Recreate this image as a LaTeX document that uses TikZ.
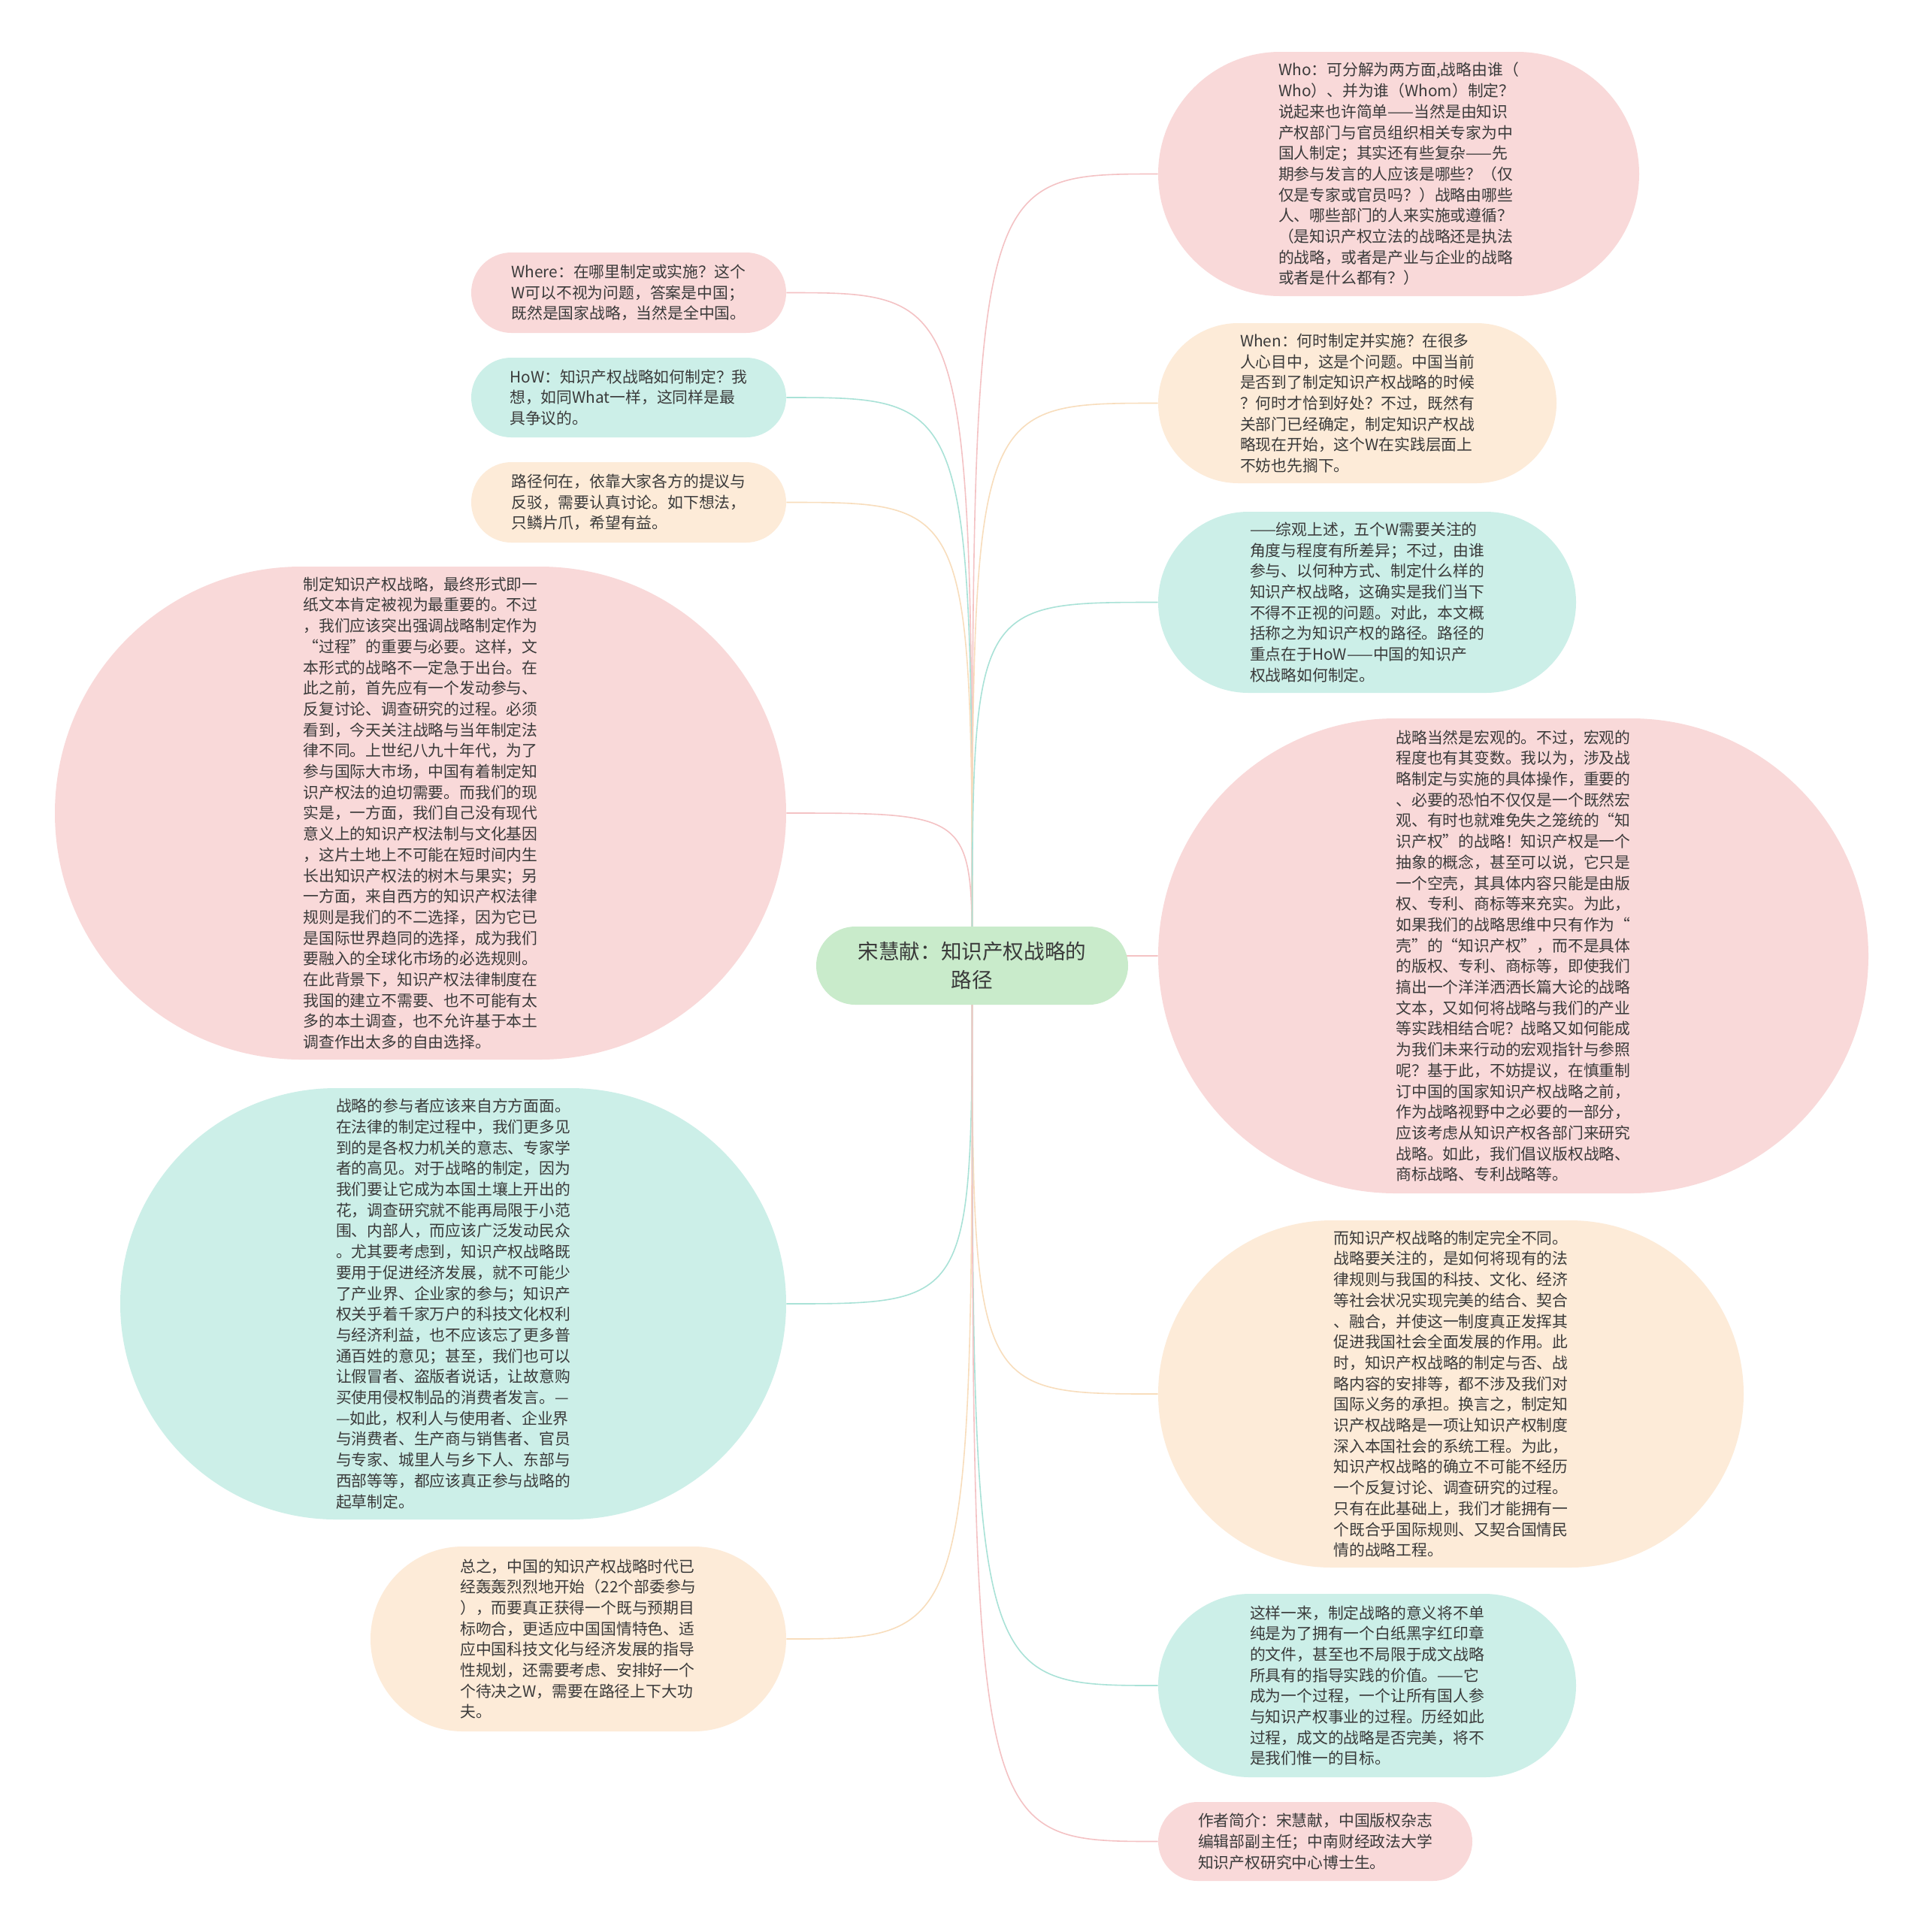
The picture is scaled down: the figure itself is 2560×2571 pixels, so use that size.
\documentclass[tikz,border=0pt]{standalone}
\usepackage{fontspec}
\setmainfont{Noto Sans CJK SC}
\usepackage{tikz}
\usetikzlibrary{shapes.misc, backgrounds}
\definecolor{mypink}{HTML}{F9D9D9}
\definecolor{mycyan}{HTML}{CCEFE8}
\definecolor{mypeach}{HTML}{FDEBD8}
\definecolor{mygreen}{HTML}{C9EBCB}
\definecolor{mypinkline}{HTML}{F4C2C4}
\definecolor{mycyanline}{HTML}{A9E2D7}
\definecolor{mypeachline}{HTML}{F8DDBC}
\definecolor{mytext}{HTML}{3A3A3A}
\tikzset{
	basenode/.style={
			rounded rectangle,
			draw=none,
			inner sep=2pt,
			align=left,
			text=mytext,
			font=\fontsize{10.4}{13.85}\selectfont
		},
	topicnode/.style={
			basenode,
			fill=mygreen,
			align=center,
			font=\fontsize{13.8}{18.9}\selectfont
		},
	pinknode/.style={
			basenode,
			fill=mypink
		},
	cyannode/.style={
			basenode,
			fill=mycyan
		},
	peachnode/.style={
			basenode,
			fill=mypeach
		},
	pinkedge/.style={
			draw=mypinkline,
			line width=0.8pt
		},
	cyanedge/.style={
			draw=mycyanline,
			line width=0.8pt
		},
	peachedge/.style={
			draw=mypeachline,
			line width=0.8pt
		}
}

\begin{document}
\begin{tikzpicture}[x=0.5pt, y=-0.5pt]
\useasboundingbox (0,0) rectangle (2560,2571);

\node[topicnode, minimum width=211.5pt, minimum height=52pt] (tTopic) at (1293.5,1285) {宋慧献：知识产权战略的\\路径};

% left side
\node[pinknode, minimum width=213.5pt, minimum height=53.5pt] (tWhere) at (836.5,389.5) {Where：在哪里制定或实施？这个\\W可以不视为问题，答案是中国；\\既然是国家战略，当然是全中国。};
\node[cyannode, minimum width=213.5pt, minimum height=53pt] (tHow) at (836.5,529) {HoW：知识产权战略如何制定？我\\想，如同What一样，这同样是最\\具争议的。};
\node[peachnode, minimum width=213.5pt, minimum height=53.5pt] (tPath) at (836.5,668.5) {路径何在，依靠大家各方的提议与\\反驳，需要认真讨论。如下想法，\\只鳞片爪，希望有益。};
\node[pinknode, minimum width=490.5pt, minimum height=328pt] (tProcess) at (559.5,1082) {制定知识产权战略，最终形式即一\\纸文本肯定被视为最重要的。不过\\，我们应该突出强调战略制定作为\\“过程”的重要与必要。这样，文\\本形式的战略不一定急于出台。在\\此之前，首先应有一个发动参与、\\反复讨论、调查研究的过程。必须\\看到，今天关注战略与当年制定法\\律不同。上世纪八九十年代，为了\\参与国际大市场，中国有着制定知\\识产权法的迫切需要。而我们的现\\实是，一方面，我们自己没有现代\\意义上的知识产权法制与文化基因\\，这片土地上不可能在短时间内生\\长出知识产权法的树木与果实；另\\一方面，来自西方的知识产权法律\\规则是我们的不二选择，因为它已\\是国际世界趋同的选择，成为我们\\要融入的全球化市场的必选规则。\\在此背景下，知识产权法律制度在\\我国的建立不需要、也不可能有太\\多的本土调查，也不允许基于本土\\调查作出太多的自由选择。};
\node[cyannode, minimum width=447pt, minimum height=287pt] (tParty) at (603,1735) {战略的参与者应该来自方方面面。\\在法律的制定过程中，我们更多见\\到的是各权力机关的意志、专家学\\者的高见。对于战略的制定，因为\\我们要让它成为本国土壤上开出的\\花，调查研究就不能再局限于小范\\围、内部人，而应该广泛发动民众\\。尤其要考虑到，知识产权战略既\\要用于促进经济发展，就不可能少\\了产业界、企业家的参与；知识产\\权关乎着千家万户的科技文化权利\\与经济利益，也不应该忘了更多普\\通百姓的意见；甚至，我们也可以\\让假冒者、盗版者说话，让故意购\\买使用侵权制品的消费者发言。—\\—如此，权利人与使用者、企业界\\与消费者、生产商与销售者、官员\\与专家、城里人与乡下人、东部与\\西部等等，都应该真正参与战略的\\起草制定。};
\node[peachnode, minimum width=280.5pt, minimum height=123pt] (tSum) at (769.5,2181) {总之，中国的知识产权战略时代已\\经轰轰烈烈地开始（22个部委参与\\），而要真正获得一个既与预期目\\标吻合，更适应中国国情特色、适\\应中国科技文化与经济发展的指导\\性规划，还需要考虑、安排好一个\\个待决之W，需要在路径上下大功\\夫。};

% right side
\node[pinknode, minimum width=324pt, minimum height=162.5pt] (tWho) at (1861,231.5) {Who：可分解为两方面,战略由谁（\\Who）、并为谁（Whom）制定？\\说起来也许简单——当然是由知识\\产权部门与官员组织相关专家为中\\国人制定；其实还有些复杂——先\\期参与发言的人应该是哪些？（仅\\仅是专家或官员吗？）战略由哪些\\人、哪些部门的人来实施或遵循？\\（是知识产权立法的战略还是执法\\的战略，或者是产业与企业的战略\\或者是什么都有？）};
\node[peachnode, minimum width=269pt, minimum height=106.5pt] (tWhen) at (1806,536.5) {When：何时制定并实施？在很多\\人心目中，这是个问题。中国当前\\是否到了制定知识产权战略的时候\\？何时才恰到好处？不过，既然有\\关部门已经确定，制定知识产权战\\略现在开始，这个W在实践层面上\\不妨也先搁下。};
\node[cyannode, minimum width=282pt, minimum height=120.5pt] (tOverview) at (1819,801.5) {——综观上述，五个W需要关注的\\角度与程度有所差异；不过，由谁\\参与、以何种方式、制定什么样的\\知识产权战略，这确实是我们当下\\不得不正视的问题。对此，本文概\\括称之为知识产权的路径。路径的\\重点在于HoW——中国的知识产\\权战略如何制定。};
\node[pinknode, minimum width=476.5pt, minimum height=316pt] (tMacro) at (2013.5,1272) {战略当然是宏观的。不过，宏观的\\程度也有其变数。我以为，涉及战\\略制定与实施的具体操作，重要的\\、必要的恐怕不仅仅是一个既然宏\\观、有时也就难免失之笼统的“知\\识产权”的战略！知识产权是一个\\抽象的概念，甚至可以说，它只是\\一个空壳，其具体内容只能是由版\\权、专利、商标等来充实。为此，\\如果我们的战略思维中只有作为“\\壳”的“知识产权”，而不是具体\\的版权、专利、商标等，即使我们\\搞出一个洋洋洒洒长篇大论的战略\\文本，又如何将战略与我们的产业\\等实践相结合呢？战略又如何能成\\为我们未来行动的宏观指针与参照\\呢？基于此，不妨提议，在慎重制\\订中国的国家知识产权战略之前，\\作为战略视野中之必要的一部分，\\应该考虑从知识产权各部门来研究\\战略。如此，我们倡议版权战略、\\商标战略、专利战略等。};
\node[peachnode, minimum width=393.5pt, minimum height=231pt] (tDiffer) at (1930.5,1855) {而知识产权战略的制定完全不同。\\战略要关注的，是如何将现有的法\\律规则与我国的科技、文化、经济\\等社会状况实现完美的结合、契合\\、融合，并使这一制度真正发挥其\\促进我国社会全面发展的作用。此\\时，知识产权战略的制定与否、战\\略内容的安排等，都不涉及我们对\\国际义务的承担。换言之，制定知\\识产权战略是一项让知识产权制度\\深入本国社会的系统工程。为此，\\知识产权战略的确立不可能不经历\\一个反复讨论、调查研究的过程。\\只有在此基础上，我们才能拥有一\\个既合乎国际规则、又契合国情民\\情的战略工程。};
\node[cyannode, minimum width=282pt, minimum height=122pt] (tMeaning) at (1819,2243) {这样一来，制定战略的意义将不单\\纯是为了拥有一个白纸黑字红印章\\的文件，甚至也不局限于成文战略\\所具有的指导实践的价值。——它\\成为一个过程，一个让所有国人参\\与知识产权事业的过程。历经如此\\过程，成文的战略是否完美，将不\\是我们惟一的目标。};
\node[pinknode, minimum width=213pt, minimum height=52.5pt] (tAuthor) at (1750,2450.5) {作者简介：宋慧献，中国版权杂志\\编辑部副主任；中南财经政法大学\\知识产权研究中心博士生。};

\begin{scope}[on background layer]
\fill[white] (0,0) rectangle (2560,2571);
\draw[pinkedge] (tTopic.center) .. controls (tTopic.center |- tWhere.east) .. (tWhere.east);
\draw[cyanedge] (tTopic.center) .. controls (tTopic.center |- tHow.east) .. (tHow.east);
\draw[peachedge] (tTopic.center) .. controls (tTopic.center |- tPath.east) .. (tPath.east);
\draw[pinkedge] (tTopic.center) .. controls (tTopic.center |- tProcess.east) .. (tProcess.east);
\draw[cyanedge] (tTopic.center) .. controls (tTopic.center |- tParty.east) .. (tParty.east);
\draw[peachedge] (tTopic.center) .. controls (tTopic.center |- tSum.east) .. (tSum.east);
\draw[pinkedge] (tTopic.center) .. controls (tTopic.center |- tWho.west) .. (tWho.west);
\draw[peachedge] (tTopic.center) .. controls (tTopic.center |- tWhen.west) .. (tWhen.west);
\draw[cyanedge] (tTopic.center) .. controls (tTopic.center |- tOverview.west) .. (tOverview.west);
\draw[pinkedge] (tTopic.center) .. controls (tTopic.center |- tMacro.west) .. (tMacro.west);
\draw[peachedge] (tTopic.center) .. controls (tTopic.center |- tDiffer.west) .. (tDiffer.west);
\draw[cyanedge] (tTopic.center) .. controls (tTopic.center |- tMeaning.west) .. (tMeaning.west);
\draw[pinkedge] (tTopic.center) .. controls (tTopic.center |- tAuthor.west) .. (tAuthor.west);
\end{scope}

\end{tikzpicture}
\end{document}
